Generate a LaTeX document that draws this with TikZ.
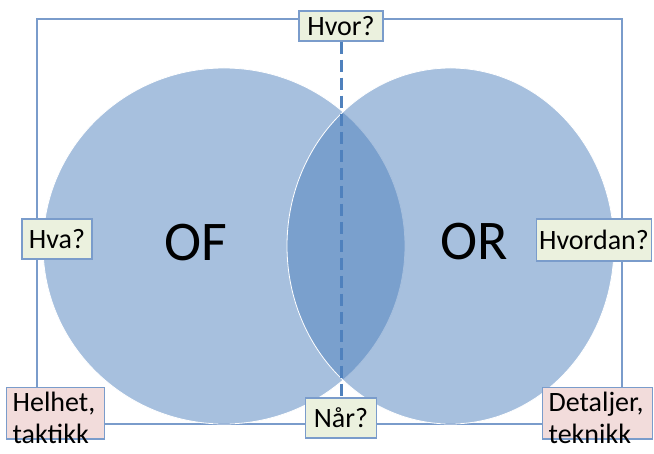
\documentclass[tikz,border=0pt]{standalone}
\usepackage{fontspec}
\setmainfont{Carlito}
\definecolor{setblue}{HTML}{4F81BD}
\definecolor{tagline}{HTML}{7A9CCB}
\definecolor{taggreen}{HTML}{EBF1DE}
\definecolor{tagpink}{HTML}{F2DCDB}
\tikzset{
  setfill/.style={fill=setblue, fill opacity=0.5, draw=white, draw opacity=1, line width=0.8pt},
  setlabel/.style={font=\fontsize{56}{60}\selectfont},
  tagbox/.style={draw=tagline, line width=1.3pt, fill=taggreen, inner sep=0pt,
    font=\fontsize{28}{32}\selectfont},
  pinkbox/.style={tagbox, fill=tagpink, align=left, anchor=north west,
    inner xsep=6pt, inner ysep=4pt, text depth=24pt},
  dashline/.style={setblue, line width=3pt, dash pattern=on 12pt off 6pt},
}

\begin{document}
\begin{tikzpicture}[x=1pt, y=-1pt]
  \clip (0, 0) rectangle (654, 454);

  % frame
  \draw [tagline, line width=1.2pt] (37, 19) rectangle (622, 424);

  % the two sets
  \path [setfill] (224, 246) ellipse [x radius=181pt, y radius=178pt];
  \path [setfill] (450.5, 246) ellipse [x radius=163.5pt, y radius=178pt];
  \node [setlabel] (of) at (196, 243) {OF};
  \node [setlabel] (or) at (474, 242) {OR};

  % questions
  \node [tagbox, minimum width=84pt, minimum height=30pt] (hvor) at (341, 26) {Hvor?};
  \node [tagbox, minimum width=70pt, minimum height=40pt] (hva) at (57, 239) {Hva?};
  \node [tagbox, minimum width=115pt, minimum height=42pt] (hvordan) at (594, 240) {Hvordan?};
  \node [tagbox, minimum width=71pt, minimum height=40pt] (naar) at (341, 418) {Når?};

  \node [pinkbox, text width=86pt] (helhet) at (6, 387) {Helhet,\\taktikk};
  \node [pinkbox, text width=98pt] (detaljer) at (542, 387) {Detaljer,\\teknikk};

  \draw [dashline] (hvor.south) -- (naar.north);
\end{tikzpicture}
\end{document}
